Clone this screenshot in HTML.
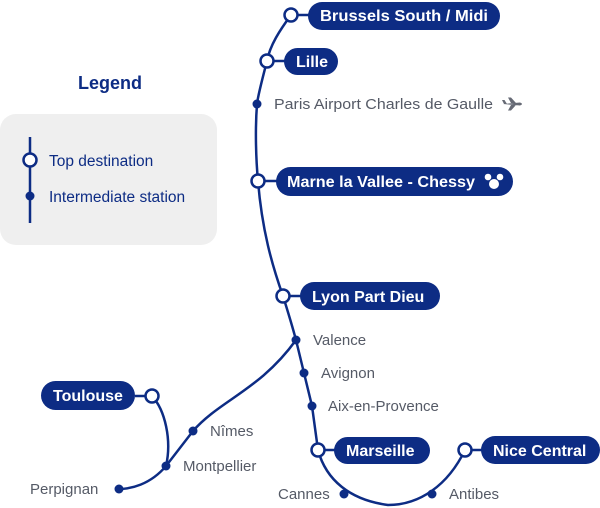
<!DOCTYPE html>
<html><head><meta charset="utf-8"><style>
html,body{margin:0;padding:0;background:#fff;}
svg{display:block;}
text{font-family:"Liberation Sans",sans-serif;}
.g{fill:#555a66;font-size:15px;}
.w{fill:#fff;font-size:16px;font-weight:bold;}
</style></head><body>
<svg width="600" height="508" viewBox="0 0 600 508" xmlns="http://www.w3.org/2000/svg">
<g fill="none" stroke="#0d2c84" stroke-width="2.5">
<path d="M291,15 C280,30 270,45 267,61 C262,80 258,95 257,104 C255,130 256,160 258,181 C262,230 272,265 283,296 C288,312 292,325 296,340 L304,373 L312,406 L318,450 C326,480 350,500 388,505 C420,505 448,485 465,450"/>
<path d="M296,340 C260,390 220,400 193,431 L166,466 C150,485 130,489 119,489"/>
<path d="M152,396 C165,410 172,440 166,466"/>
<line x1="291" y1="15" x2="310" y2="15"/>
<line x1="267" y1="61" x2="286" y2="61"/>
<line x1="258" y1="181" x2="278" y2="181"/>
<line x1="283" y1="296" x2="302" y2="296"/>
<line x1="318" y1="450" x2="336" y2="450"/>
<line x1="465" y1="450" x2="483" y2="450"/>
<line x1="135" y1="396" x2="152" y2="396"/>
</g>
<rect x="0" y="114" width="217" height="131" rx="16" fill="#efefef"/>
<line x1="30" y1="137" x2="30" y2="223" stroke="#0d2c84" stroke-width="2.5"/>
<circle cx="30" cy="160" r="6.5" fill="#fff" stroke="#0d2c84" stroke-width="2.5"/>
<circle cx="30" cy="196" r="4.5" fill="#0d2c84"/>
<text x="49" y="166" style="font-size:15.5px;fill:#0d2c84">Top destination</text>
<text x="49" y="202" style="font-size:15.5px;fill:#0d2c84">Intermediate station</text>
<text x="110" y="89" text-anchor="middle" style="font-size:18px;font-weight:bold;fill:#0d2c84">Legend</text>

<g fill="#0d2c84">
<rect x="308" y="2" width="192" height="28" rx="14"/>
<rect x="284" y="48" width="54" height="27" rx="13.5"/>
<rect x="276" y="167" width="237" height="29" rx="14.5"/>
<rect x="300" y="282" width="140" height="28" rx="14"/>
<rect x="334" y="437" width="96" height="27" rx="13.5"/>
<rect x="481" y="436" width="119" height="28" rx="14"/>
<rect x="41" y="381" width="94" height="29" rx="14.5"/>
<circle cx="257" cy="104" r="4.5"/>
<circle cx="296" cy="340" r="4.5"/>
<circle cx="304" cy="373" r="4.5"/>
<circle cx="312" cy="406" r="4.5"/>
<circle cx="344" cy="494" r="4.5"/>
<circle cx="432" cy="494" r="4.5"/>
<circle cx="193" cy="431" r="4.5"/>
<circle cx="166" cy="466" r="4.5"/>
<circle cx="119" cy="489" r="4.5"/>
</g>
<g fill="#fff" stroke="#0d2c84" stroke-width="2.5">
<circle cx="291" cy="15" r="6.5"/>
<circle cx="267" cy="61" r="6.5"/>
<circle cx="258" cy="181" r="6.5"/>
<circle cx="283" cy="296" r="6.5"/>
<circle cx="318" cy="450" r="6.5"/>
<circle cx="465" cy="450" r="6.5"/>
<circle cx="152" cy="396" r="6.5"/>
</g>
<text class="w" x="320" y="21" textLength="168" lengthAdjust="spacingAndGlyphs">Brussels South / Midi</text>
<text class="w" x="296" y="67">Lille</text>
<text class="w" x="287" y="187" textLength="188" lengthAdjust="spacingAndGlyphs">Marne la Vallee - Chessy</text>
<text class="w" x="312" y="302">Lyon Part Dieu</text>
<text class="w" x="346" y="456">Marseille</text>
<text class="w" x="493" y="456">Nice Central</text>
<text class="w" x="53" y="401">Toulouse</text>
<g fill="#fff"><circle cx="494" cy="184" r="5"/><circle cx="488" cy="177" r="3.3"/><circle cx="500" cy="177" r="3.3"/></g>
<text class="g" x="274" y="109" textLength="219" lengthAdjust="spacingAndGlyphs">Paris Airport Charles de Gaulle</text>
<path d="M503,104 L520,102.5 Q524,104 520,105.5 L503,104 Z M511,103 L508,97.5 L511,97.5 L516,103 Z M511,105 L508,110.5 L511,110.5 L516,105 Z M504,104 L502,100 L504.5,100 L507,104 Z" fill="#666a75"/>
<text class="g" x="313" y="345">Valence</text>
<text class="g" x="321" y="378">Avignon</text>
<text class="g" x="328" y="411">Aix-en-Provence</text>
<text class="g" x="278" y="499">Cannes</text>
<text class="g" x="449" y="499">Antibes</text>
<text class="g" x="210" y="436">Nîmes</text>
<text class="g" x="183" y="471">Montpellier</text>
<text class="g" x="30" y="494">Perpignan</text>
</svg>
</body></html>
